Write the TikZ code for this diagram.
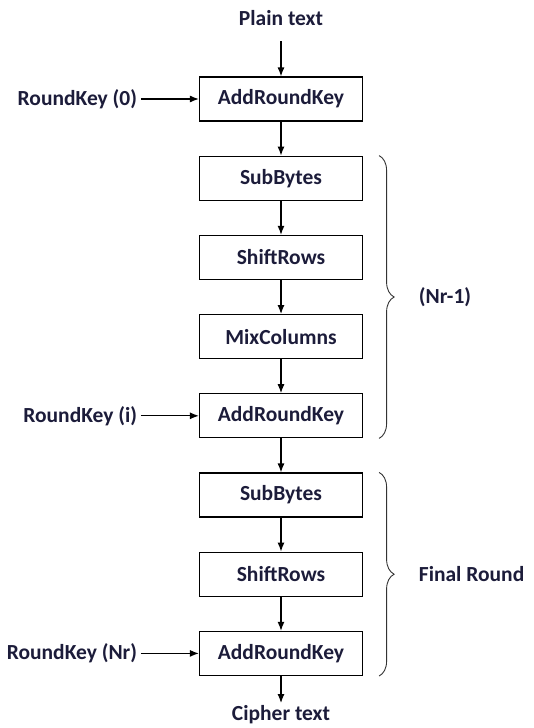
\documentclass[tikz,border=0pt]{standalone}
\usepackage{fontspec}
\setmainfont{Carlito}
\usetikzlibrary{positioning,decorations.pathreplacing,arrows.meta}
\definecolor{labelnavy}{RGB}{28,28,58}

\begin{document}
\begin{tikzpicture}[-{Latex[length=9pt,width=7pt]} ,node distance =34pt ,
line width =1.2pt ,font =\fontsize{21.5}{25}\selectfont\bfseries ,text =labelnavy ,
block/.style ={rectangle ,draw ,minimum width =163pt ,minimum height =44pt},
io/.style ={inner ysep =15pt},
roundbrace/.style ={-,decorate ,decoration ={brace ,amplitude =15pt} ,
line width =0.9pt ,draw =black!80}
]
\useasboundingbox (0pt,0pt) rectangle (533pt,-728pt);
% the cipher rounds
\node[block] (ark0) at (281pt,-99pt) {AddRoundKey};
\node[block] (sb1) [below = of ark0] {SubBytes};
\node[block] (sr1) [below = of sb1] {ShiftRows};
\node[block] (mc1) [below = of sr1] {MixColumns};
\node[block] (ark1) [below = of mc1] {AddRoundKey};
\node[block] (sb2) [below = of ark1] {SubBytes};
\node[block] (sr2) [below = of sb2] {ShiftRows};
\node[block] (ark2) [below = of sr2] {AddRoundKey};
\node[io] (plain) [above = 35pt of ark0] {Plain text};
\node[inner ysep =2pt] (cipher) [below = 27pt of ark2] {Cipher text};
% round keys
\node (rk0) [left = 58pt of ark0] {RoundKey (0)};
\node (rki) [left = 58pt of ark1] {RoundKey (i)};
\node (rknr) [left = 58pt of ark2] {RoundKey (Nr)};
\draw (plain) -- (ark0);
\draw (ark0) -- (sb1);
\draw (sb1) -- (sr1);
\draw (sr1) -- (mc1);
\draw (mc1) -- (ark1);
\draw (ark1) -- (sb2);
\draw (sb2) -- (sr2);
\draw (sr2) -- (ark2);
\draw (ark2) -- (cipher);
\draw (rk0) -- (ark0);
\draw (rki) -- (ark1);
\draw (rknr) -- (ark2);
% braces
\draw[roundbrace] ([xshift=16pt]sb1.north east) -- ([xshift=16pt]ark1.south east)
  node[midway ,right =36pt] (nr1) {(Nr-1)};
\draw[roundbrace] ([xshift=16pt]sb2.north east) -- ([xshift=16pt]ark2.south east)
  node[midway ,right =36pt] (final) {Final Round};
\end{tikzpicture}
\end{document}
